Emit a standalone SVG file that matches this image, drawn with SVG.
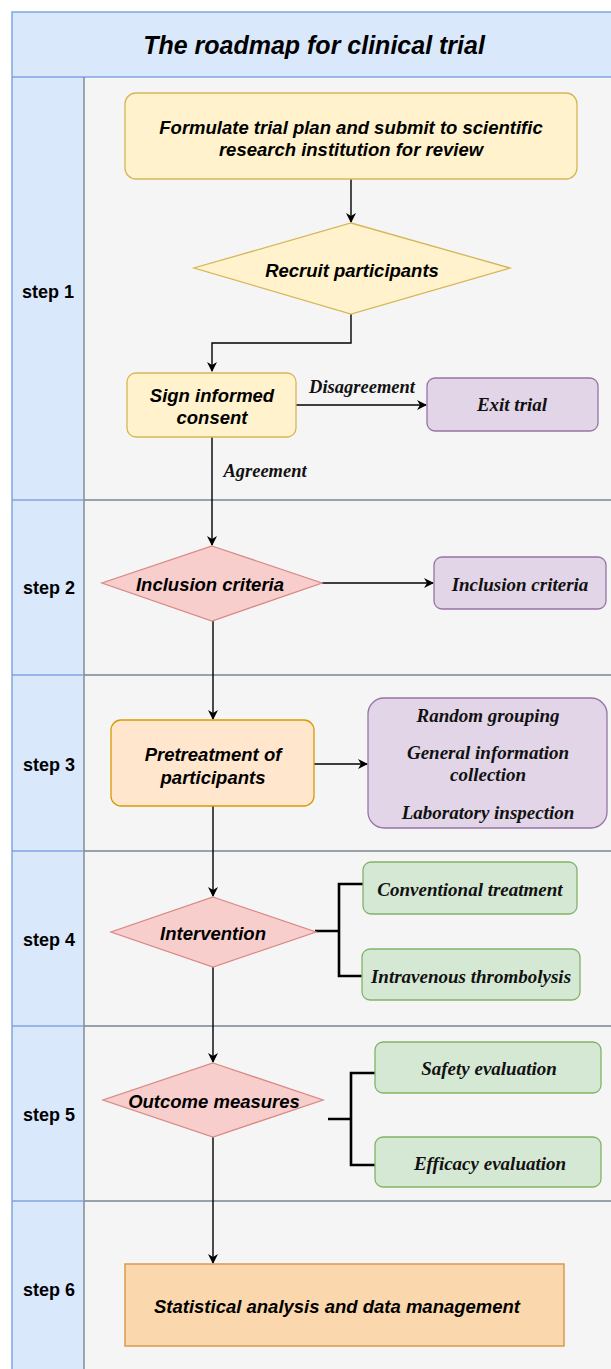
<svg xmlns="http://www.w3.org/2000/svg" width="611" height="1369" viewBox="0 0 611 1369">
<defs>
<marker id="ah" viewBox="0 0 10 10" refX="9" refY="5" markerWidth="10" markerHeight="10" markerUnits="userSpaceOnUse" orient="auto">
<path d="M0,0 L10,5 L0,10 L3,5 Z" fill="#000"/>
</marker>
<style>
.sans{font-family:"Liberation Sans",Arial,sans-serif;font-weight:bold;font-style:italic;fill:#000;text-anchor:middle;dominant-baseline:central}
.serif{font-family:"Liberation Serif","Times New Roman",serif;font-weight:bold;font-style:italic;fill:#111;text-anchor:middle;dominant-baseline:central}
.step{font-family:"Liberation Sans",Arial,sans-serif;font-weight:bold;font-size:18px;fill:#000;text-anchor:middle;dominant-baseline:central}
.yel{fill:#fff2cc;stroke:#d6b656;stroke-width:1.3}
.pur{fill:#e1d5e7;stroke:#9673a6;stroke-width:1.3}
.red{fill:#f8cecc;stroke:#d98a86;stroke-width:1.3}
.grn{fill:#d5e8d4;stroke:#82b366;stroke-width:1.3}
.org{fill:#ffe6cc;stroke:#d79b00;stroke-width:1.3}
.edge{fill:none;stroke:#000;stroke-width:1.4}
.brk{fill:none;stroke:#000;stroke-width:2.6}
</style>
</defs>
<rect width="611" height="1369" fill="#fff"/>
<g id="pool">
<rect x="12" y="12" width="610" height="1370" fill="#dae8fc" stroke="#7ea6e0" stroke-width="1.5"/>
<rect x="84" y="77" width="540" height="1300" fill="#f5f5f5"/>
<line x1="12" y1="77" x2="611" y2="77" stroke="#7ea6e0" stroke-width="1.5"/>
<line x1="84" y1="77" x2="84" y2="1369" stroke="#7f8c99" stroke-width="1.5"/>
<g stroke-width="1.5">
<line x1="12" y1="500" x2="84" y2="500" stroke="#7ea6e0"/><line x1="84" y1="500" x2="611" y2="500" stroke="#7a8591"/>
<line x1="12" y1="675" x2="84" y2="675" stroke="#7ea6e0"/><line x1="84" y1="675" x2="611" y2="675" stroke="#7a8591"/>
<line x1="12" y1="851" x2="84" y2="851" stroke="#7ea6e0"/><line x1="84" y1="851" x2="611" y2="851" stroke="#7a8591"/>
<line x1="12" y1="1026" x2="84" y2="1026" stroke="#7ea6e0"/><line x1="84" y1="1026" x2="611" y2="1026" stroke="#7a8591"/>
<line x1="12" y1="1201" x2="84" y2="1201" stroke="#7ea6e0"/><line x1="84" y1="1201" x2="611" y2="1201" stroke="#7a8591"/>
</g>
<text class="sans" x="314" y="45" font-size="25">The roadmap for clinical trial</text>
<text class="step" x="48" y="292">step 1</text>
<text class="step" x="49" y="588">step 2</text>
<text class="step" x="49" y="765">step 3</text>
<text class="step" x="49" y="940">step 4</text>
<text class="step" x="49" y="1115">step 5</text>
<text class="step" x="49" y="1290">step 6</text>
</g>
<g id="connectors">
<path class="edge" d="M351,179 V222" marker-end="url(#ah)"/>
<path class="edge" d="M351,314 V343 H212 V371" marker-end="url(#ah)"/>
<path class="edge" d="M296,405 H426" marker-end="url(#ah)"/>
<path class="edge" d="M212,437 V545" marker-end="url(#ah)"/>
<path class="edge" d="M322,583 H433" marker-end="url(#ah)"/>
<path class="edge" d="M213,621 V719" marker-end="url(#ah)"/>
<path class="edge" d="M314,764 H367" marker-end="url(#ah)"/>
<path class="edge" d="M213,806 V896" marker-end="url(#ah)"/>
<path class="edge" d="M213,967 V1062" marker-end="url(#ah)"/>
<path class="edge" d="M213,1137 V1263" marker-end="url(#ah)"/>
<path class="brk" d="M315,931 H339 M363,884 H339 V976 H363"/>
<path class="brk" d="M328,1119 H351 M375,1073 H351 V1165 H375"/>
<text class="serif" x="362" y="387" font-size="18.5">Disagreement</text>
<text class="serif" x="265" y="471" font-size="18.5">Agreement</text>
</g>
<g id="n_formulate">
<rect class="yel" x="125" y="93" width="452" height="86" rx="11"/>
<text class="sans" x="351" y="127" font-size="18.5">Formulate trial plan and submit to scientific</text>
<text class="sans" x="351" y="149" font-size="18.5">research institution for review</text>
</g>
<g id="n_recruit">
<polygon class="yel" points="351,223 510,268 351,314 194,268"/>
<text class="sans" x="352" y="270" font-size="18.5">Recruit participants</text>
</g>
<g id="n_sign">
<rect class="yel" x="127" y="373" width="169" height="64" rx="9"/>
<text class="sans" x="212" y="395" font-size="18.5">Sign informed</text>
<text class="sans" x="212" y="417" font-size="18.5">consent</text>
</g>
<g id="n_exit">
<rect class="pur" x="427" y="378" width="171" height="53" rx="8"/>
<text class="serif" x="512" y="404" font-size="19">Exit trial</text>
</g>
<g id="n_incl_d">
<polygon class="red" points="212,546 322,583 212,621 102,583"/>
<text class="sans" x="210" y="584" font-size="18.5">Inclusion criteria</text>
</g>
<g id="n_incl_b">
<rect class="pur" x="434" y="557" width="172" height="52" rx="8"/>
<text class="serif" x="520" y="584" font-size="19">Inclusion criteria</text>
</g>
<g id="n_pretreat">
<rect class="org" x="111" y="720" width="203" height="86" rx="10"/>
<text class="sans" x="213" y="754" font-size="18.5">Pretreatment of</text>
<text class="sans" x="213" y="777" font-size="18.5">participants</text>
</g>
<g id="n_random">
<rect class="pur" x="368" y="698" width="239" height="130" rx="16"/>
<text class="serif" x="488" y="715" font-size="19">Random grouping</text>
<text class="serif" x="488" y="752" font-size="19">General information</text>
<text class="serif" x="488" y="774" font-size="19">collection</text>
<text class="serif" x="488" y="812" font-size="19">Laboratory inspection</text>
</g>
<g id="n_interv">
<polygon class="red" points="213,897 316,932 213,967 111,932"/>
<text class="sans" x="213" y="933" font-size="18.5">Intervention</text>
</g>
<g id="n_conv">
<rect class="grn" x="363" y="862" width="214" height="52" rx="8"/>
<text class="serif" x="470" y="889" font-size="19">Conventional treatment</text>
</g>
<g id="n_iv">
<rect class="grn" x="362" y="949" width="218" height="51" rx="8"/>
<text class="serif" x="471" y="976" font-size="19">Intravenous thrombolysis</text>
</g>
<g id="n_outcome">
<polygon class="red" points="213,1063 323,1100 213,1137 103,1100"/>
<text class="sans" x="214" y="1101" font-size="18.5">Outcome measures</text>
</g>
<g id="n_safety">
<rect class="grn" x="375" y="1042" width="226" height="51" rx="8"/>
<text class="serif" x="489" y="1068" font-size="19">Safety evaluation</text>
</g>
<g id="n_efficacy">
<rect class="grn" x="375" y="1137" width="226" height="50" rx="8"/>
<text class="serif" x="490" y="1163" font-size="19">Efficacy evaluation</text>
</g>
<g id="n_stat">
<rect x="125" y="1264" width="439" height="82" fill="#fad7ac" stroke="#d99a4e" stroke-width="1.5"/>
<text class="sans" x="337" y="1306" font-size="18.5">Statistical analysis and data management</text>
</g>
</svg>
